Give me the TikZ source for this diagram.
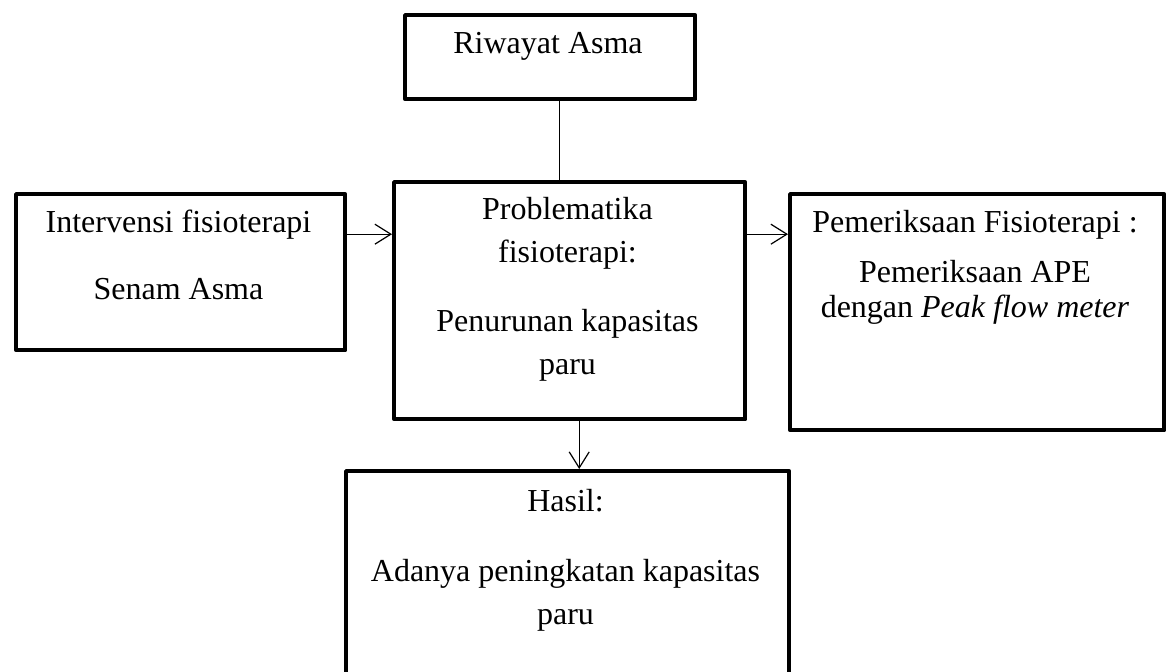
\documentclass[tikz,border=0pt]{standalone}
\usepackage{fontspec}
\setmainfont{Liberation Serif}
\usetikzlibrary{arrows.meta}

\begin{document}
\begin{tikzpicture}[x=0.5pt,y=-0.5pt,
  box/.style={rectangle,draw,line width=2.2pt,line join=round,anchor=north west,inner sep=0pt},
  txt/.style={align=center,anchor=base,inner sep=0pt,font=\fontsize{16pt}{21.5pt}\selectfont},
  arr/.style={line width=0.6pt,-{Straight Barb[length=8pt,width=10pt]}}]
\clip (0,0) rectangle (1167,672);
% boxes
\node[box,minimum width=145pt,minimum height=42pt] (riwayat) at (403,13) {};
\node[box,minimum width=164.5pt,minimum height=78pt] (interv) at (14,192) {};
\node[box,minimum width=175.5pt,minimum height=118.5pt] (problem) at (392,180) {};
\node[box,minimum width=187pt,minimum height=118pt] (periksa) at (788,192) {};
\node[box,minimum width=221.5pt,minimum height=115pt] (hasil) at (344,469) {};
% texts (placed by the baseline of their last line)
\node[txt] (riwayat-t) at (548,54) {Riwayat Asma};
\node[txt] (interv-t) at (178.5,300) {Intervensi fisioterapi\\[12pt]Senam Asma};
\node[txt] (problem-t) at (567.5,375) {Problematika\\fisioterapi:\\[13pt]Penurunan kapasitas\\paru};
\node[txt] (periksa-t) at (975,318) {Pemeriksaan Fisioterapi :\\[3.5pt]Pemeriksaan APE\\[-4pt]dengan \textit{Peak flow meter}};
\node[txt] (hasil-t) at (565.5,625) {Hasil:\\[13.5pt]Adanya peningkatan kapasitas\\paru};
% connectors
\draw[line width=0.6pt] ([xshift=4.5pt]riwayat.south) coordinate (r1) -- (r1 |- problem.north);
\draw[arr] ([yshift=19pt]interv.east) coordinate (a1) -- (a1 -| problem.west);
\draw[arr] ([yshift=33.25pt]problem.east) coordinate (a2) -- (a2 -| periksa.west);
\draw[arr] ([xshift=4.75pt]problem.south) coordinate (a3) -- (a3 |- hasil.north);
\end{tikzpicture}
\end{document}
